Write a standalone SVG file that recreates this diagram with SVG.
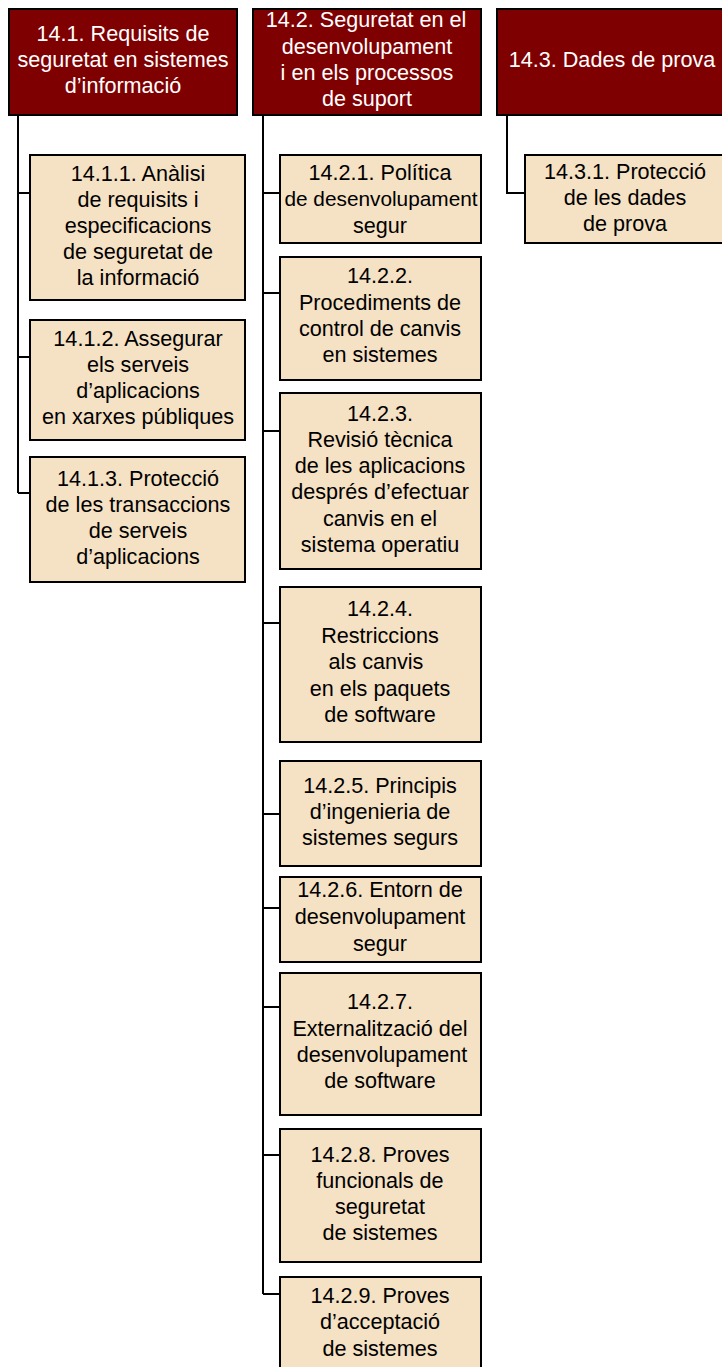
<svg xmlns="http://www.w3.org/2000/svg" width="722" height="1367" viewBox="0 0 722 1367">
<style>
.h{fill:#7f0000;stroke:#000;stroke-width:2}
.c{fill:#f5e1c3;stroke:#000;stroke-width:2}
.ht{fill:#fff;font-family:"Liberation Sans",Arial,sans-serif;font-size:21.6px;text-anchor:middle}
.ct{fill:#000;font-family:"Liberation Sans",Arial,sans-serif;font-size:21.6px;text-anchor:middle}
.ln{fill:none;stroke:#000;stroke-width:2}
</style>
<rect width="722" height="1367" fill="#fff"/>
<g id="connectors" class="ln">
<path d="M18 115V493M18 193H30M18 357H30M18 493H30"/>
<path d="M263 115V1294M263 193H280M263 293H280M263 431H280M263 623H280M263 814H280M263 908H280M263 1007H280M263 1155H280M263 1294H280"/>
<path d="M507 115V193H525"/>
</g>
<g id="n14_1"><rect class="h" x="9" y="9" width="228" height="106"/>
<text class="ht" x="123"><tspan x="123" y="41">14.1. Requisits de</tspan><tspan x="123" y="67">seguretat en sistemes</tspan><tspan x="123" y="93">d’informació</tspan></text></g>
<g id="n14_2"><rect class="h" x="253" y="9" width="228" height="106"/>
<text class="ht"><tspan x="366" y="27">14.2. Seguretat en el</tspan><tspan x="367" y="54">desenvolupament</tspan><tspan x="367" y="80">i en els processos</tspan><tspan x="367" y="106">de suport</tspan></text></g>
<g id="n14_3"><rect class="h" x="497" y="9" width="230" height="106"/>
<text class="ht"><tspan x="612" y="67">14.3. Dades de prova</tspan></text></g>
<g id="n14_1_1"><rect class="c" x="30" y="155" width="215" height="145"/>
<text class="ct"><tspan x="138" y="181">14.1.1. Anàlisi</tspan><tspan x="138" y="207">de requisits i</tspan><tspan x="138" y="233">especificacions</tspan><tspan x="138" y="259">de seguretat de</tspan><tspan x="138" y="285">la informació</tspan></text></g>
<g id="n14_1_2"><rect class="c" x="30" y="320" width="215" height="120"/>
<text class="ct"><tspan x="138" y="346">14.1.2. Assegurar</tspan><tspan x="138" y="372">els serveis</tspan><tspan x="138" y="398">d’aplicacions</tspan><tspan x="138" y="424">en xarxes públiques</tspan></text></g>
<g id="n14_1_3"><rect class="c" x="30" y="457" width="215" height="125"/>
<text class="ct"><tspan x="138" y="486">14.1.3. Protecció</tspan><tspan x="138" y="512">de les transaccions</tspan><tspan x="138" y="538">de serveis</tspan><tspan x="138" y="564">d’aplicacions</tspan></text></g>
<g id="n14_2_1"><rect class="c" x="280" y="155" width="201" height="88"/>
<text class="ct"><tspan x="380" y="180">14.2.1. Política</tspan><tspan x="381" y="206" style="font-size:20.8px">de desenvolupament</tspan><tspan x="380" y="233">segur</tspan></text></g>
<g id="n14_2_2"><rect class="c" x="280" y="257" width="201" height="123"/>
<text class="ct"><tspan x="380" y="283">14.2.2.</tspan><tspan x="380" y="310">Procediments de</tspan><tspan x="380" y="336">control de canvis</tspan><tspan x="380" y="362">en sistemes</tspan></text></g>
<g id="n14_2_3"><rect class="c" x="280" y="393" width="201" height="176"/>
<text class="ct"><tspan x="380" y="421">14.2.3.</tspan><tspan x="380" y="447">Revisió tècnica</tspan><tspan x="380" y="473">de les aplicacions</tspan><tspan x="380" y="499">després d’efectuar</tspan><tspan x="380" y="526">canvis en el</tspan><tspan x="380" y="552">sistema operatiu</tspan></text></g>
<g id="n14_2_4"><rect class="c" x="280" y="587" width="201" height="155"/>
<text class="ct"><tspan x="380" y="616">14.2.4.</tspan><tspan x="380" y="643">Restriccions</tspan><tspan x="376" y="669">als canvis</tspan><tspan x="380" y="696">en els paquets</tspan><tspan x="380" y="722">de software</tspan></text></g>
<g id="n14_2_5"><rect class="c" x="280" y="761" width="201" height="105"/>
<text class="ct"><tspan x="380" y="793">14.2.5. Principis</tspan><tspan x="380" y="819">d’ingenieria de</tspan><tspan x="380" y="845">sistemes segurs</tspan></text></g>
<g id="n14_2_6"><rect class="c" x="280" y="877" width="201" height="85"/>
<text class="ct"><tspan x="380" y="897">14.2.6. Entorn de</tspan><tspan x="380" y="924">desenvolupament</tspan><tspan x="380" y="951">segur</tspan></text></g>
<g id="n14_2_7"><rect class="c" x="280" y="973" width="201" height="142"/>
<text class="ct"><tspan x="380" y="1009">14.2.7.</tspan><tspan x="380" y="1036">Externalització del</tspan><tspan x="382" y="1062">desenvolupament</tspan><tspan x="380" y="1088">de software</tspan></text></g>
<g id="n14_2_8"><rect class="c" x="280" y="1129" width="201" height="133"/>
<text class="ct"><tspan x="380" y="1162">14.2.8. Proves</tspan><tspan x="380" y="1188">funcionals de</tspan><tspan x="380" y="1214">seguretat</tspan><tspan x="380" y="1240">de sistemes</tspan></text></g>
<g id="n14_2_9"><rect class="c" x="280" y="1277" width="201" height="100"/>
<text class="ct"><tspan x="380" y="1303">14.2.9. Proves</tspan><tspan x="380" y="1329">d’acceptació</tspan><tspan x="380" y="1356">de sistemes</tspan></text></g>
<g id="n14_3_1"><rect class="c" x="525" y="155" width="202" height="88"/>
<text class="ct"><tspan x="625" y="179">14.3.1. Protecció</tspan><tspan x="625" y="205">de les dades</tspan><tspan x="625" y="231">de prova</tspan></text></g>
</svg>
